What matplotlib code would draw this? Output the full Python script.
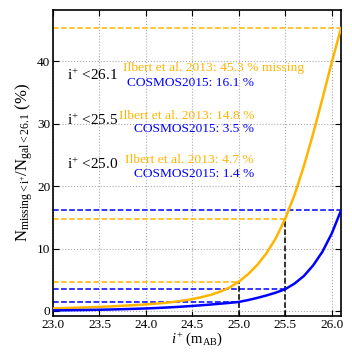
import matplotlib
matplotlib.use("Agg")
import matplotlib.pyplot as plt

plt.rcParams['font.family'] = ['Liberation Serif', 'DejaVu Serif']
plt.rcParams['mathtext.fontset'] = 'custom'
plt.rcParams['mathtext.rm'] = 'Liberation Serif'
plt.rcParams['mathtext.it'] = 'Liberation Serif:italic'
plt.rcParams['mathtext.bf'] = 'Liberation Serif:bold'

mag = [23.0, 23.1, 23.2, 23.3, 23.4, 23.5, 23.6, 23.7, 23.8, 23.9,
       24.0, 24.1, 24.2, 24.3, 24.4, 24.5, 24.6, 24.7, 24.8, 24.9,
       25.0, 25.1, 25.2, 25.3, 25.4, 25.5, 25.6, 25.7, 25.8, 25.9,
       26.0, 26.1]
ilbert = [0.40, 0.45, 0.50, 0.55, 0.60, 0.66, 0.72, 0.80, 0.88, 0.96,
          1.05, 1.17, 1.30, 1.46, 1.66, 1.90, 2.22, 2.60, 3.10, 3.75,
          4.70, 5.90, 7.40, 9.30, 11.7, 14.8, 18.6, 23.2, 28.4, 34.0,
          39.8, 45.3]
cosmos = [0.10, 0.11, 0.13, 0.15, 0.17, 0.20, 0.23, 0.27, 0.31, 0.36,
          0.41, 0.47, 0.54, 0.62, 0.71, 0.81, 0.92, 1.04, 1.17, 1.30,
          1.45, 1.75, 2.10, 2.50, 2.95, 3.50, 4.40, 5.60, 7.30, 9.50,
          12.4, 16.1]

cuts = [26.1, 25.5, 25.0]
ilbert_frac = [45.3, 14.8, 4.7]
cosmos_frac = [16.1, 3.5, 1.4]
cut_labels = ['i$^{+}$ <26.1', 'i$^{+}$ <25.5', 'i$^{+}$ <25.0']
ilbert_labels = ['Ilbert et al. 2013: 45.3 % missing',
                 'Ilbert et al. 2013: 14.8 %',
                 'Ilbert et al. 2013: 4.7 %']
cosmos_labels = ['COSMOS2015: 16.1 %', 'COSMOS2015: 3.5 %', 'COSMOS2015: 1.4 %']

ORANGE = '#FFB400'
BLUE = '#0000FF'

fig = plt.figure(figsize=(3.52, 3.52), dpi=100)
ax = fig.add_axes([0.1506, 0.1023, 0.8182, 0.8693])

XMIN, XMAX = 23.0, 26.1
YMIN, YMAX = -0.8, 48.2

ax.plot(mag, ilbert, color=ORANGE, lw=1.8, zorder=3)
ax.plot(mag, cosmos, color=BLUE, lw=1.8, zorder=3)

for c, fi, fc in zip(cuts, ilbert_frac, cosmos_frac):
    ax.hlines(fi, XMIN, c, colors=ORANGE, linestyles='--', lw=1.1, zorder=2)
    ax.hlines(fc, XMIN, c, colors=BLUE, linestyles='--', lw=1.1, zorder=2)
    if c < XMAX:
        ax.vlines(c, YMIN, fi, colors='black', linestyles='--', lw=1.1, zorder=2)

# annotations
cut_y = [37.8, 30.6, 23.4]
il_y = [38.9, 31.3, 24.2]
co_y = [36.5, 29.1, 21.9]
for i in range(3):
    ax.text(23.15, cut_y[i], cut_labels[i], color='black', fontsize=11,
            ha='left', va='center')
    if i == 0:
        ax.text(23.754, il_y[i], ilbert_labels[i], color=ORANGE, fontsize=9.7,
                ha='left', va='center')
    else:
        ax.text(25.165, il_y[i], ilbert_labels[i], color=ORANGE, fontsize=9.7,
                ha='right', va='center')
    ax.text(25.165, co_y[i], cosmos_labels[i], color=BLUE, fontsize=9.6,
            ha='right', va='center')

ax.set_xlim(XMIN, XMAX)
ax.set_ylim(YMIN, YMAX)
ax.set_xticks([23.0, 23.5, 24.0, 24.5, 25.0, 25.5, 26.0])
ax.set_xticklabels(['23.0', '23.5', '24.0', '24.5', '25.0', '25.5', '26.0'])
ax.set_yticks([0, 10, 20, 30, 40])
ax.tick_params(direction='in', top=True, right=True, labelsize=9.5,
               length=4, width=0.8, pad=2)
ax.grid(True, linestyle=':', color='#aaaaaa', lw=0.8)
for s in ax.spines.values():
    s.set_linewidth(1.2)

ax.set_xlabel(r'$i^{+}$ (m$_{\rm AB}$)', fontsize=10.5, labelpad=0)
ax.set_ylabel(r'N$_{\rm missing<i^{+}}$/N$_{\rm gal<26.1}$ (%)', fontsize=12,
              labelpad=1)

fig.savefig('out.png', dpi=100)
